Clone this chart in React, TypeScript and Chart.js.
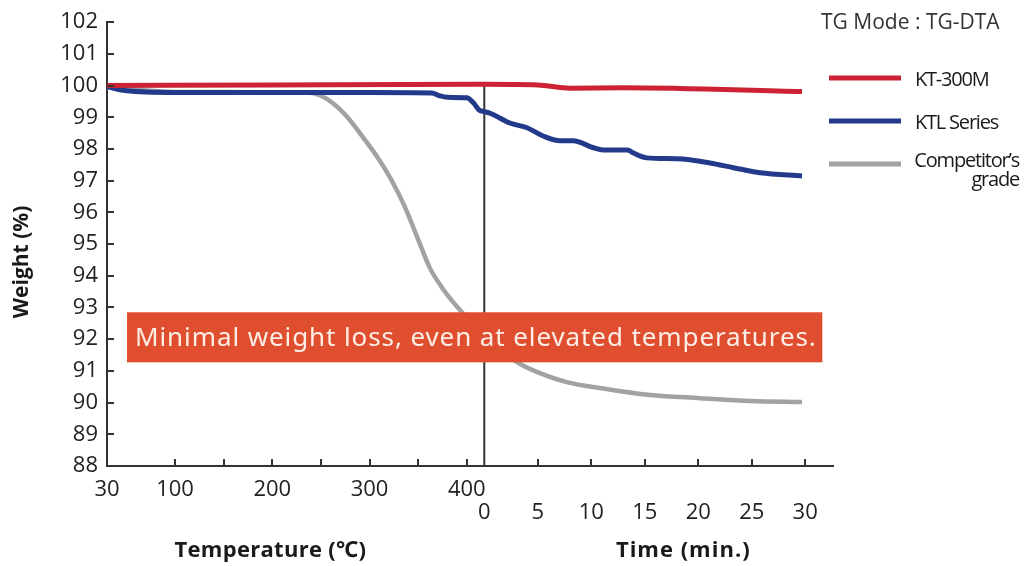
import { useEffect, useRef } from 'react';
import { Chart, registerables } from 'chart.js';

Chart.register(...registerables);

// ---- axis definitions ----
const WEIGHT_MIN = 88;
const WEIGHT_MAX = 102;
const TEMP_START = 30;      // °C at the left end
const TEMP_END = 418;       // °C at which the isothermal hold (time 0) begins
const MIN_TO_UNITS = 11.0;  // horizontal size of one minute, in °C-equivalent units
const TIME_AXIS_END = 32.6; // minutes at the right end of the axis line

const tempTickLabels = [30, 100, 200, 300, 400];
const tempTickMarks = [100, 150, 200, 250, 300, 350, 400];
const timeTickLabels = [0, 5, 10, 15, 20, 25, 30];
const timeTickMarks = [5, 10, 15, 20, 25, 30];

// ---- series (temperature ramp part, then time hold part) ----
const seriesNames = ['KT-300M', 'KTL Series', 'Competitor’s grade'];
const legendLines = [['KT-300M'], ['KTL Series'], ['Competitor’s', 'grade']];
const seriesColors = ['#CC2233', '#233A8B', '#A2A2A2'];

const ktTempC = [30, 200, 410];
const ktTempW = [100.0, 100.02, 100.04];
const ktTimeMin = [0, 5, 8, 13, 29.7];
const ktTimeW = [100.04, 100.02, 99.92, 99.93, 99.81];

const ktlTempC = [30, 45, 70, 150, 300, 364, 372, 380, 400, 407, 413];
const ktlTempW = [99.97, 99.86, 99.8, 99.78, 99.78, 99.77, 99.68, 99.63, 99.62, 99.45, 99.22];
const ktlTimeMin = [0, 0.6, 2.4, 4.0, 5.5, 7.1, 8.3, 10.2, 11.1, 13.4, 13.9, 15.2, 18.0, 21.1, 23.3, 25.8, 29.7];
const ktlTimeW = [99.18, 99.12, 98.82, 98.67, 98.41, 98.26, 98.26, 98.04, 97.97, 97.97, 97.88, 97.72, 97.69, 97.56, 97.41, 97.25, 97.15];

const compTempC = [30, 100, 236, 250, 262, 276, 293, 308, 322, 336, 349, 362, 374, 386, 398, 408];
const compTempW = [99.95, 99.8, 99.78, 99.68, 99.45, 99.05, 98.38, 97.75, 97.05, 96.2, 95.22, 94.25, 93.65, 93.17, 92.75, 92.42];
const compTimeMin = [0, 1.6, 3.4, 5.2, 7.8, 10.8, 15.5, 20.2, 24.9, 29.7];
const compTimeW = [92.12, 91.62, 91.21, 90.93, 90.64, 90.46, 90.24, 90.14, 90.05, 90.02];

// ---- annotation ----
const noteText = 'Minimal weight loss, even at elevated temperatures.';
const noteTop = 92.85;
const noteBottom = 91.27;
const noteLeftC = 50.6;
const noteRightMin = 31.6;

const modeText = 'TG Mode : TG-DTA';

const xOfTemp = (T: number) => T;
const xOfTime = (t: number) => TEMP_END + t * MIN_TO_UNITS;

const build = (tc: number[], tw: number[], mt: number[], mw: number[]) => [
  ...tc.map((T, i) => ({ x: xOfTemp(T), y: tw[i] })),
  ...mt.map((t, i) => ({ x: xOfTime(t), y: mw[i] })),
];

const FONT = '"Open Sans", "Noto Sans", sans-serif';

const decorPlugin = {
  id: 'decor',
  beforeDatasetsDraw(chart: any) {
    const { ctx, scales } = chart;
    const x = scales.x;
    const y = scales.y;
    const px = x.getPixelForValue(TEMP_END);
    ctx.save();
    ctx.strokeStyle = '#333';
    ctx.lineWidth = 2;
    ctx.beginPath();
    ctx.moveTo(px, y.getPixelForValue(100));
    ctx.lineTo(px, y.getPixelForValue(WEIGHT_MIN));
    ctx.stroke();
    ctx.restore();
  },
  afterDatasetsDraw(chart: any) {
    const { ctx, scales } = chart;
    const x = scales.x;
    const y = scales.y;
    const l = x.getPixelForValue(xOfTemp(noteLeftC));
    const r = x.getPixelForValue(xOfTime(noteRightMin));
    const t = y.getPixelForValue(noteTop);
    const b = y.getPixelForValue(noteBottom);
    ctx.save();
    ctx.fillStyle = '#DF4F2F';
    ctx.fillRect(l, t, r - l, b - t);
    ctx.fillStyle = '#FCEEE6';
    ctx.font = `26px "Noto Sans", sans-serif`;
    (ctx as any).letterSpacing = '0.9px';
    ctx.textBaseline = 'middle';
    ctx.textAlign = 'left';
    ctx.fillText(noteText, l + 8, (t + b) / 2 + 1, r - l - 12);
    (ctx as any).letterSpacing = '0px';
    ctx.restore();
  },
  afterDraw(chart: any) {
    const { ctx, scales, chartArea } = chart;
    const x = scales.x;
    const y = scales.y;
    ctx.save();
    // inward tick marks
    ctx.strokeStyle = '#333';
    ctx.lineWidth = 2;
    ctx.beginPath();
    for (let v = WEIGHT_MIN + 1; v <= WEIGHT_MAX; v++) {
      const py = Math.round(y.getPixelForValue(v));
      ctx.moveTo(chartArea.left, py);
      ctx.lineTo(chartArea.left + 7, py);
    }
    tempTickMarks.forEach((T) => {
      const px = Math.round(x.getPixelForValue(xOfTemp(T)));
      ctx.moveTo(px, chartArea.bottom);
      ctx.lineTo(px, chartArea.bottom - 7);
    });
    timeTickMarks.forEach((tm) => {
      const px = Math.round(x.getPixelForValue(xOfTime(tm)));
      ctx.moveTo(px, chartArea.bottom);
      ctx.lineTo(px, chartArea.bottom - 7);
    });
    ctx.stroke();

    // axis titles
    ctx.fillStyle = '#1a1a1a';
    ctx.textAlign = 'center';
    ctx.textBaseline = 'middle';
    ctx.font = `bold 21px ${FONT}`;
    ctx.save();
    ctx.translate(22, (y.getPixelForValue(95) + y.getPixelForValue(94)) / 2 + 2);
    ctx.rotate(-Math.PI / 2);
    ctx.fillText('Weight (%)', 0, 0);
    ctx.restore();
    ctx.font = `bold 22px ${FONT}`;
    (ctx as any).letterSpacing = '0.3px';
    ctx.fillText('Temperature (℃)', x.getPixelForValue(xOfTemp(198)), 551);
    (ctx as any).letterSpacing = '1px';
    ctx.fillText('Time (min.)', x.getPixelForValue(xOfTime(18.6)), 551);
    (ctx as any).letterSpacing = '0px';

    // mode caption + legend
    ctx.fillStyle = '#333';
    ctx.font = `21px ${FONT}`;
    ctx.textAlign = 'left';
    ctx.fillText(modeText, 821, 23);

    const rowY = [78, 121, 164];
    const ds = chart.data.datasets;
    ds.forEach((d: any, i: number) => {
      ctx.strokeStyle = d.borderColor;
      ctx.lineWidth = 5;
      ctx.beginPath();
      ctx.moveTo(829, rowY[i]);
      ctx.lineTo(901, rowY[i]);
      ctx.stroke();
      const lines = legendLines[i];
      ctx.fillStyle = '#1a1a1a';
      ctx.font = `20px ${FONT}`;
      (ctx as any).letterSpacing = '-1.2px';
      if (lines.length === 1) {
        ctx.textAlign = 'left';
        ctx.fillText(lines[0], 915, rowY[i] + 2);
      } else {
        ctx.textAlign = 'right';
        lines.forEach((s, k) => ctx.fillText(s, 1019, rowY[i] - 3 + k * 19));
      }
      (ctx as any).letterSpacing = '0px';
    });
    ctx.restore();
  },
};

export default function App() {
  const ref = useRef<HTMLCanvasElement | null>(null);
  useEffect(() => {
    if (!ref.current) return;
    const datasets = [
      { data: build(ktTempC, ktTempW, ktTimeMin, ktTimeW) },
      { data: build(ktlTempC, ktlTempW, ktlTimeMin, ktlTimeW) },
      { data: build(compTempC, compTempW, compTimeMin, compTimeW) },
    ].map((d, i) => ({
      label: seriesNames[i],
      data: d.data,
      borderColor: seriesColors[i],
      backgroundColor: seriesColors[i],
      borderWidth: i === 2 ? 4.5 : 5,
      pointRadius: 0,
      cubicInterpolationMode: 'monotone' as const,
      fill: false,
    }));
    const chart = new Chart(ref.current, {
      type: 'line',
      data: { datasets },
      options: {
        animation: false,
        responsive: false,
        maintainAspectRatio: false,
        layout: { padding: { top: 21, right: 192, left: 0, bottom: 0 } },
        plugins: { legend: { display: false }, tooltip: { enabled: false } },
        scales: {
          x: {
            type: 'linear',
            position: 'bottom',
            weight: 0,
            min: xOfTemp(TEMP_START),
            max: xOfTime(TIME_AXIS_END),
            afterBuildTicks: (s: any) => {
              s.ticks = tempTickLabels.map((v) => ({ value: xOfTemp(v) }));
            },
            afterFit: (s: any) => {
              s.height = 34;
            },
            ticks: {
              autoSkip: false,
              maxRotation: 0,
              padding: 11,
              color: '#222',
              font: { family: FONT, size: 22 },
              callback: (_v: any, i: number) => String(tempTickLabels[i]),
            },
            grid: { drawOnChartArea: false, drawTicks: false },
            border: { color: '#333', width: 2 },
          },
          x2: {
            type: 'linear',
            position: 'bottom',
            weight: 1,
            min: xOfTemp(TEMP_START),
            max: xOfTime(TIME_AXIS_END),
            afterBuildTicks: (s: any) => {
              s.ticks = timeTickLabels.map((t) => ({ value: xOfTime(t) }));
            },
            afterFit: (s: any) => {
              s.height = 66;
            },
            ticks: {
              autoSkip: false,
              maxRotation: 0,
              padding: 0,
              color: '#222',
              font: { family: FONT, size: 22 },
              callback: (_v: any, i: number) => String(timeTickLabels[i]),
            },
            grid: { display: false, drawTicks: false },
            border: { display: false },
          },
          y: {
            min: WEIGHT_MIN,
            max: WEIGHT_MAX,
            afterFit: (s: any) => {
              s.width = 107;
            },
            ticks: {
              stepSize: 1,
              padding: 9,
              color: '#222',
              font: { family: FONT, size: 22 },
            },
            grid: { drawOnChartArea: false, drawTicks: false },
            border: { color: '#333', width: 2 },
          },
        },
      },
      plugins: [decorPlugin],
    });
    return () => chart.destroy();
  }, []);
  return (
    <div style={{ position: 'absolute', left: 0, top: 0, width: 1025, height: 566, background: '#fff' }}>
      <canvas ref={ref} width={1025} height={566} style={{ width: 1025, height: 566 }} />
    </div>
  );
}
